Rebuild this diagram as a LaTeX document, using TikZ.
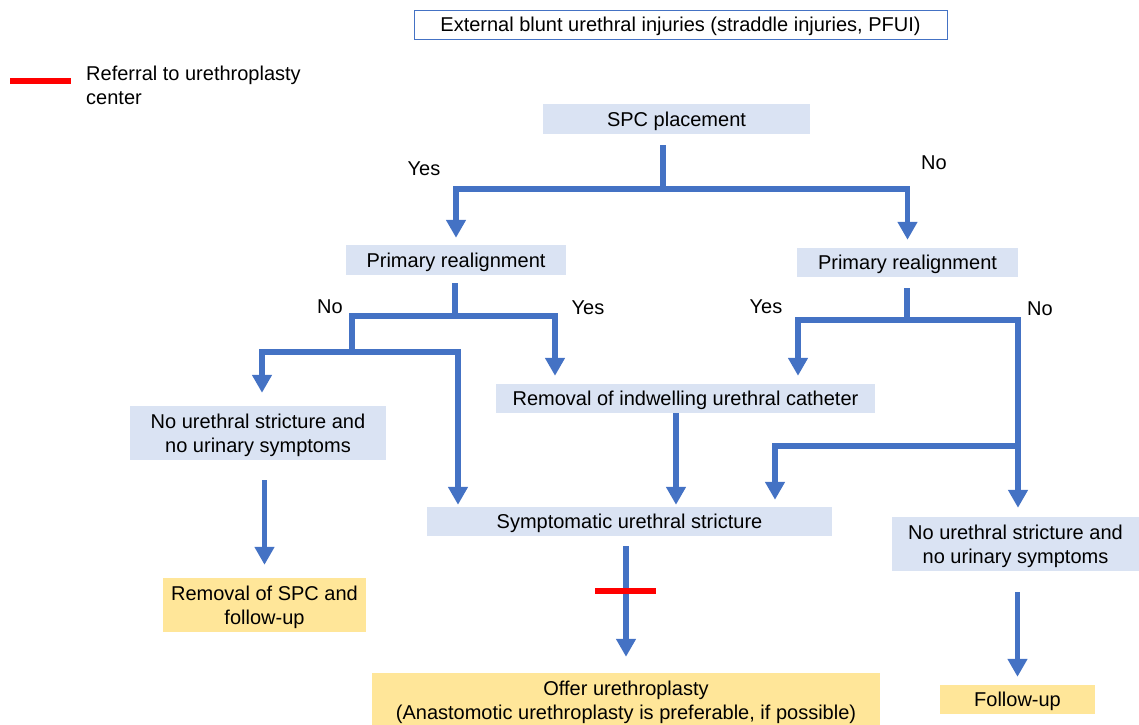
\documentclass[tikz,border=0pt]{standalone}
\usepackage{fontspec}
\setmainfont{Liberation Sans}
\usetikzlibrary{arrows.meta}
\definecolor{flowblue}{HTML}{4472C4}
\definecolor{boxblue}{HTML}{DAE3F3}
\definecolor{boxyellow}{HTML}{FFE699}
\tikzset{
  stepbox/.style={fill=boxblue,inner sep=0pt,text depth=0pt,align=center,font=\fontsize{20}{24}\selectfont},
  endbox/.style={stepbox,fill=boxyellow},
  answer/.style={inner sep=0pt,text depth=0pt,font=\fontsize{20}{24}\selectfont},
  flow/.style={draw=flowblue,line width=5.5pt},
  flowarr/.style={flow,-{Triangle[length=18pt,width=19pt]}},
  flowarr2/.style={flow,{Triangle[length=18pt,width=19pt]}-{Triangle[length=18pt,width=19pt]}},
  referral/.style={draw=red,line width=5.5pt},
}

\begin{document}
\begin{tikzpicture}[x=1pt,y=-1pt]
\useasboundingbox (0,0) rectangle (1139,724);

% legend
\coordinate (legL) at (10,81);
\coordinate (legR) at (71,81);
\draw[referral] (legL) -- (legR);
\node[answer,anchor=north west,align=left] (legend) at (86,66) {Referral to urethroplasty\\center};

% boxes
\node[draw=flowblue,line width=1pt,fill=white,minimum width=533pt,minimum height=29pt,inner sep=0pt,
  text depth=0pt,font=\fontsize{20}{24}\selectfont] (injury) at (680.5,24.5) {External blunt urethral injuries (straddle injuries, PFUI)};
\node[stepbox,minimum width=267pt,minimum height=30pt] (spc) at (676.5,119) {SPC placement};
\node[stepbox,minimum width=220pt,minimum height=30pt] (realignL) at (456,260) {Primary realignment};
\node[stepbox,minimum width=221pt,minimum height=29pt] (realignR) at (907.5,262.5) {Primary realignment};
\node[stepbox,minimum width=379pt,minimum height=29pt] (catheter) at (685.5,398.5) {Removal of indwelling urethral catheter};
\node[stepbox,minimum width=256pt,minimum height=54pt] (nostrL) at (258,433) {No urethral stricture and\\no urinary symptoms};
\node[stepbox,minimum width=405pt,minimum height=29pt] (stricture) at (629.5,521.5) {Symptomatic urethral stricture};
\node[stepbox,minimum width=247pt,minimum height=54pt] (nostrR) at (1015.5,544) {No urethral stricture and\\no urinary symptoms};
\node[endbox,minimum width=203pt,minimum height=54pt] (spcout) at (264.5,605) {Removal of SPC and\\follow-up};
\node[endbox,minimum width=508pt,minimum height=54pt] (offer) at (626,700) {Offer urethroplasty\\(Anastomotic urethroplasty is preferable, if possible)};
\node[endbox,minimum width=155pt,minimum height=29pt] (followup) at (1017.5,699.5) {Follow-up};

% answers
\node[answer] (yesA) at (424,169) {Yes};
\node[answer] (noA) at (934,163) {No};
\node[answer] (noB) at (330,307) {No};
\node[answer] (yesB) at (588,308) {Yes};
\node[answer] (yesD) at (766,307) {Yes};
\node[answer] (noD) at (1040,309) {No};

% SPC split
\coordinate (splitA) at (663,189);
\draw[flow,shorten <=11pt] (spc.south -| splitA) -- (splitA);
\draw[flowarr,shorten >=7pt] (splitA) -| (realignL.north);
\draw[flowarr,shorten >=8pt] (splitA) -| (realignR.north);

% left realignment
\coordinate (splitB) at (455,316);
\coordinate (barNoB) at (352,316);
\coordinate (barYesB) at (555,316);
\coordinate (barNoC) at (352,352);
\coordinate (toNostr) at (262,352);
\coordinate (toStrict) at (458,352);
\draw[flow,shorten <=8pt] (realignL.south -| splitB) -- (splitB);
\draw[flowarr,shorten >=8pt] (barNoC) -- (barNoB) -- (barYesB) -- (barYesB |- catheter.north);
\draw[flowarr2,shorten <=13pt,shorten >=2pt] (toNostr |- nostrL.north) -- (toNostr) -- (toStrict) -- (toStrict |- stricture.north);

% right realignment
\coordinate (splitD) at (907,320);
\coordinate (barYesD) at (798,320);
\coordinate (barNoD) at (1018,320);
\coordinate (barNoE) at (1018,446);
\coordinate (toStrictE) at (775,446);
\draw[flow,shorten <=11pt] (realignR.south -| splitD) -- (splitD);
\draw[flowarr2,shorten <=8pt,shorten >=9pt] (barYesD |- catheter.north) -- (barYesD) -- (barNoD) -- (barNoD |- nostrR.north);
\draw[flowarr,shorten >=7pt] (barNoE) -- (toStrictE) -- (toStrictE |- stricture.north);

% downward steps
\draw[flowarr,shorten >=2pt] ([xshift=-9.5pt]catheter.south) -- ([xshift=-9.5pt]catheter.south |- stricture.north);
\draw[flowarr,shorten <=20pt,shorten >=13pt] (spcout.north |- nostrL.south) -- (spcout.north);
\draw[flowarr,shorten <=10pt,shorten >=16pt] (offer.north |- stricture.south) -- (offer.north);
\draw[flowarr,shorten <=21pt,shorten >=8pt] (followup.north |- nostrR.south) -- (followup.north);

% referral mark
\coordinate (refer) at (626,591);
\draw[referral] ([xshift=-31pt]refer) -- ([xshift=30pt]refer);
\end{tikzpicture}
\end{document}
